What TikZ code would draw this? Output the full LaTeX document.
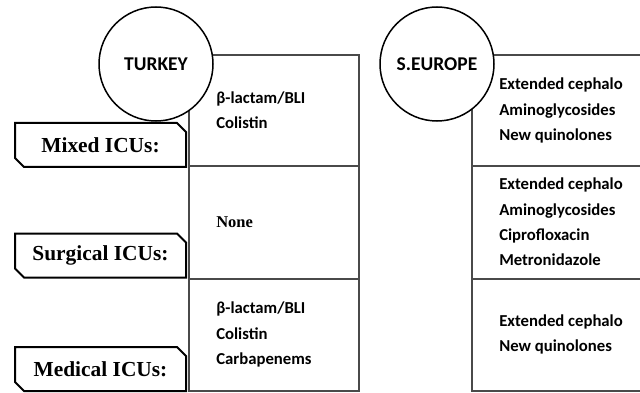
\documentclass[tikz,border=0pt]{standalone}
\usepackage{fontspec}
\setmainfont{Liberation Serif}
\newfontfamily\carlito{Carlito}
\usetikzlibrary{shapes.misc}
\definecolor{tablegray}{HTML}{4A4A4A}
\begin{document}
\begin{tikzpicture}[x=1pt,y=-1pt,
  cell/.style={draw=tablegray, line width=1.8pt, inner sep=0pt, minimum width=#1},
  cell/.default=170pt,
  celltext/.style={anchor=west, align=left, inner sep=0pt, font=\carlito\bfseries\fontsize{16.7}{25.3}\selectfont},
  country/.style={circle, draw=black, line width=1.5pt, fill=white, minimum size=114pt, inner sep=0pt, font=\carlito\bfseries\fontsize{19.5}{22}\selectfont},
  icubox/.style={chamfered rectangle, chamfered rectangle corners={north east,south west},
    chamfered rectangle xsep=6pt, chamfered rectangle angle=45, draw=black, line width=2pt,
    minimum width=171pt, minimum height=44pt, inner sep=0pt,
    font=\bfseries\fontsize{21.4}{24}\selectfont}
]
\useasboundingbox (0,0) rectangle (640,393);
\clip (0,0) rectangle (640,393);

% Turkey table
\node[cell, minimum height=111pt] (tmix) at (274,110.5) {};
\node[cell, minimum height=113pt] (tsur) at (274,222.5) {};
\node[cell, minimum height=112pt] (tmed) at (274,335) {};
\node[celltext] (tmixt) at ([xshift=28pt]tmix.west) {β-lactam/BLI\\Colistin};
\node[anchor=west, inner sep=0pt, font=\bfseries\fontsize{16.5}{20}\selectfont] (tsurt) at ([xshift=28pt]tsur.west) {None};
\node[celltext] (tmedt) at ([xshift=28pt,yshift=0.5pt]tmed.west) {β-lactam/BLI\\Colistin\\Carbapenems};

% S. Europe table
\node[cell=180pt, minimum height=111pt] (emix) at (562,110.5) {};
\node[cell=180pt, minimum height=113pt] (esur) at (562,222.5) {};
\node[cell=180pt, minimum height=112pt] (emed) at (562,335) {};
\node[celltext] (emixt) at ([xshift=28pt]emix.west) {Extended cephalo\\Aminoglycosides\\New quinolones};
\node[celltext] (esurt) at ([xshift=28pt,yshift=0.5pt]esur.west) {Extended cephalo\\Aminoglycosides\\Ciprofloxacin\\Metronidazole};
\node[celltext] (emedt) at ([xshift=28pt,yshift=0.5pt]emed.west) {Extended cephalo\\New quinolones};

% Country circles
\node[country] (turkey) at (156,64) {TURKEY};
\node[country] (seurope) at (437,64) {S.EUROPE};

% ICU labels
\node[icubox] (mixed) at (100.5,145) {Mixed ICUs:};
\node[icubox] (surgical) at (100.5,255.5) {Surgical ICUs:};
\node[icubox] (medical) at (100.5,369) {Medical ICUs:};
\end{tikzpicture}
\end{document}
